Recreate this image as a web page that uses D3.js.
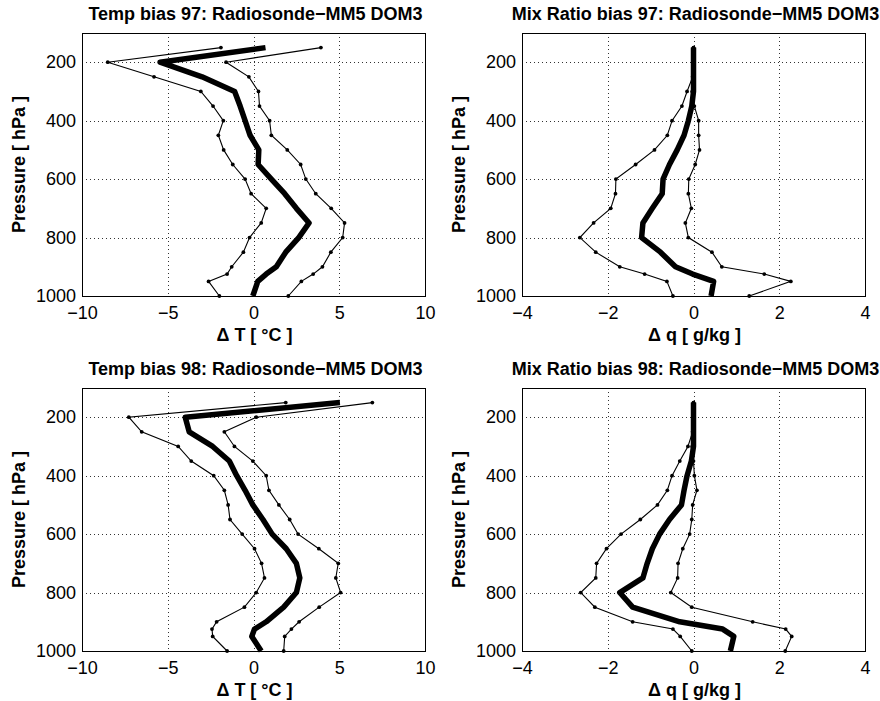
<!DOCTYPE html>
<html>
<head>
<meta charset="utf-8">
<script src="https://cdn.jsdelivr.net/npm/d3@7"></script>
<style>
  body { margin: 0; background: #fff; }
  text { font-family: "Liberation Sans", Arial, sans-serif; }
</style>
</head>
<body>
<script>
// pressure levels shared by every profile
const levels = [150, 200, 250, 300, 350, 400, 450, 500, 550, 600, 650, 700, 750, 800, 850, 900, 925, 950, 1000];
const pTicks = [200, 400, 600, 800, 1000];

// temperature bias 97
const t97Mean = [0.7, -5.45, -3.0, -1.1, -0.78, -0.49, -0.2, 0.31, 0.27, 1.04, 1.82, 2.5, 3.24, 2.64, 1.88, 1.33, 0.74, 0.25, -0.04];
const t97Low = [-1.9, -8.5, -5.8, -3.07, -2.36, -1.76, -2.05, -1.74, -1.21, -0.49, -0.14, 0.74, 0.45, -0.23, -0.59, -1.27, -1.54, -2.62, -1.99];
const t97High = [3.93, -1.6, -0.27, 0.29, 0.35, 0.94, 1.04, 1.97, 2.75, 3.05, 3.63, 4.53, 5.31, 5.2, 4.51, 4.02, 3.48, 2.79, 2.03];

// mixing ratio bias 97
const q97Mean = [0, 0, 0, 0, -0.04, -0.12, -0.22, -0.38, -0.56, -0.71, -0.73, -0.96, -1.18, -1.21, -0.77, -0.42, -0.02, 0.47, 0.41];
const q97Low = [0, 0, -0.02, -0.15, -0.27, -0.5, -0.61, -0.91, -1.35, -1.81, -1.82, -1.93, -2.33, -2.65, -2.28, -1.72, -1.14, -0.62, -0.48];
const q97High = [0, 0, 0, -0.03, 0.02, 0.12, 0.12, 0.14, 0.04, -0.11, -0.12, -0.05, -0.19, -0.12, 0.43, 0.66, 1.65, 2.27, 1.3];

// temperature bias 98
const t98Mean = [5.04, -3.98, -3.75, -2.38, -1.41, -0.98, -0.49, -0.04, 0.55, 1.09, 1.91, 2.5, 2.7, 2.5, 1.76, 0.74, 0.06, -0.1, 0.45];
const t98Low = [1.88, -7.27, -6.52, -4.39, -3.63, -2.32, -1.7, -1.48, -1.37, -0.66, 0.06, 0.47, 0.64, 0.16, -0.53, -2.15, -2.42, -2.38, -1.54];
const t98High = [6.93, 0.16, -1.7, -1.11, -0.04, 0.74, 0.9, 1.48, 2.11, 2.6, 3.81, 4.94, 4.8, 5.08, 3.83, 2.66, 2.21, 1.82, 1.76];

// mixing ratio bias 98
const q98Mean = [0, 0, 0, 0, -0.05, -0.15, -0.22, -0.28, -0.56, -0.79, -0.96, -1.08, -1.18, -1.72, -1.42, -0.32, 0.68, 0.94, 0.86];
const q98Low = [0, 0, -0.02, -0.13, -0.32, -0.5, -0.61, -0.84, -1.24, -1.69, -2.03, -2.26, -2.28, -2.63, -2.3, -1.42, -0.48, -0.31, -0.04];
const q98High = [0, 0, 0, -0.03, 0, 0.02, 0.08, -0.02, -0.04, -0.09, -0.25, -0.36, -0.37, -0.53, -0.04, 1.38, 2.15, 2.29, 2.14];

const panels = [
  { title: 'Temp bias 97: Radiosonde\u2212MM5 DOM3', xlab: '\u0394 T [ \u00b0C ]', dom: [-10, 10], xt: [-10, -5, 0, 5, 10],
    mean: t97Mean, low: t97Low, high: t97High, x: 82, y: 33 },
  { title: 'Mix Ratio bias 97: Radiosonde\u2212MM5 DOM3', xlab: '\u0394 q [ g/kg ]', dom: [-4, 4], xt: [-4, -2, 0, 2, 4],
    mean: q97Mean, low: q97Low, high: q97High, x: 522, y: 33 },
  { title: 'Temp bias 98: Radiosonde\u2212MM5 DOM3', xlab: '\u0394 T [ \u00b0C ]', dom: [-10, 10], xt: [-10, -5, 0, 5, 10],
    mean: t98Mean, low: t98Low, high: t98High, x: 82, y: 388 },
  { title: 'Mix Ratio bias 98: Radiosonde\u2212MM5 DOM3', xlab: '\u0394 q [ g/kg ]', dom: [-4, 4], xt: [-4, -2, 0, 2, 4],
    mean: q98Mean, low: q98Low, high: q98High, x: 522, y: 388 },
];

const W = 343, H = 263;

const svg = d3.select('body').append('svg')
  .attr('width', 880)
  .attr('height', 701);

panels.forEach((p) => {
  const g = svg.append('g').attr('transform', `translate(${p.x},${p.y})`);
  const x = d3.scaleLinear().domain(p.dom).range([0, W]);
  const y = d3.scaleLinear().domain([100, 1000]).range([0, H]);

  // dotted grid
  g.append('g').selectAll('line')
    .data(p.xt.slice(1, -1))
    .enter().append('line')
    .attr('x1', d => Math.round(x(d)) + 0.5).attr('x2', d => Math.round(x(d)) + 0.5)
    .attr('y1', 0).attr('y2', H)
    .attr('stroke', '#333').attr('stroke-width', 1).attr('stroke-dasharray', '1,3');
  g.append('g').selectAll('line')
    .data(pTicks.slice(0, -1))
    .enter().append('line')
    .attr('y1', d => Math.round(y(d)) + 0.5).attr('y2', d => Math.round(y(d)) + 0.5)
    .attr('x1', 0).attr('x2', W)
    .attr('stroke', '#333').attr('stroke-width', 1).attr('stroke-dasharray', '1,3');

  const line = d3.line()
    .x(d => x(d[0]))
    .y(d => y(d[1]));

  [p.low, p.high].forEach((s) => {
    const pts = s.map((v, i) => [v, levels[i]]);
    g.append('path')
      .attr('d', line(pts))
      .attr('fill', 'none')
      .attr('stroke', '#000')
      .attr('stroke-width', 1.1);
    g.append('g').selectAll('circle')
      .data(pts)
      .enter().append('circle')
      .attr('cx', d => x(d[0]))
      .attr('cy', d => y(d[1]))
      .attr('r', 1.9)
      .attr('fill', '#000');
  });

  g.append('path')
    .attr('d', line(p.mean.map((v, i) => [v, levels[i]])))
    .attr('fill', 'none')
    .attr('stroke', '#000')
    .attr('stroke-width', 5.5)
    .attr('stroke-linejoin', 'round');

  // frame
  g.append('rect')
    .attr('x', 0.5).attr('y', 0.5)
    .attr('width', W).attr('height', H)
    .attr('fill', 'none').attr('stroke', '#000').attr('stroke-width', 1);

  const xAxis = g.append('g')
    .attr('transform', `translate(0,${H})`)
    .call(d3.axisBottom(x).tickValues(p.xt).tickSize(0).tickPadding(10).tickFormat(d3.format('d')));
  const yAxis = g.append('g')
    .call(d3.axisLeft(y).tickValues(pTicks).tickSize(0).tickPadding(6).tickFormat(d3.format('d')));
  [xAxis, yAxis].forEach((a) => {
    a.select('.domain').remove();
    a.selectAll('text')
      .attr('font-size', 18)
      .attr('font-family', '"Liberation Sans", Arial, sans-serif')
      .attr('fill', '#000');
  });

  g.append('text')
    .attr('x', W / 2 + 2)
    .attr('y', -13)
    .attr('text-anchor', 'middle')
    .attr('font-size', 18)
    .attr('font-weight', 'bold')
    .text(p.title);

  g.append('text')
    .attr('x', W / 2 + 1)
    .attr('y', H + 45)
    .attr('text-anchor', 'middle')
    .attr('font-size', 18)
    .attr('font-weight', 'bold')
    .text(p.xlab);

  g.append('text')
    .attr('transform', `translate(-57,${H / 2}) rotate(-90)`)
    .attr('text-anchor', 'middle')
    .attr('font-size', 18)
    .attr('font-weight', 'bold')
    .text('Pressure [ hPa ]');
});
</script>
</body>
</html>
